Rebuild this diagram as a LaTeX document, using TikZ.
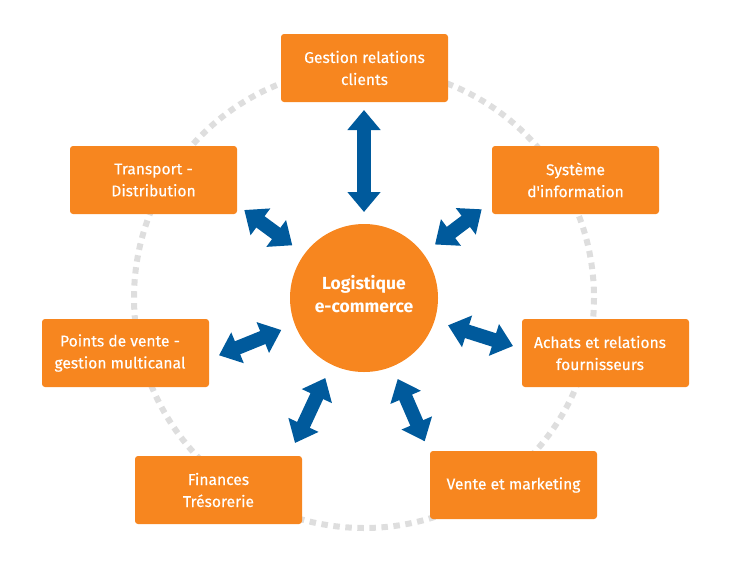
\documentclass[tikz,border=0pt]{standalone}
\usepackage{fontspec}
\setmainfont{Fira Sans}
\newfontfamily\boxfont[FakeBold=0.35]{Fira Sans}
\usetikzlibrary{arrows.meta}
\definecolor{orangebox}{HTML}{F7861F}
\definecolor{bluearrow}{HTML}{005A9C}
\definecolor{greyring}{HTML}{DEDEDE}
\newcommand{\backtext}{\hspace*{-11pt}}
\tikzset{
  domainbox/.style={fill=orangebox,text=white,rounded corners=3pt,minimum width=167pt,minimum height=68pt,inner sep=0pt,align=center,font=\fontsize{15.6}{22}\boxfont},
  hubdisc/.style={circle,fill=orangebox,text=white,minimum size=148pt,inner sep=0pt,align=center,font=\fontsize{17.5}{23}\selectfont\bfseries},
  dblarrow/.style={bluearrow,line width=14pt,{Triangle[length=20pt,width=32pt]}-{Triangle[length=20pt,width=32pt]}},
  ringline/.style={greyring,line width=6pt,dash pattern=on 6.5pt off 5.55pt}
}
\begin{document}
\begin{tikzpicture}[x=1pt,y=-1pt]
	  \useasboundingbox (0,0) rectangle (730,560);
	  \coordinate (C) at (364,298);
	  \draw[ringline] (C) circle (230);
	  \node[hubdisc] (hub) at (C) {Logistique\\e-commerce\\[-15pt]\mbox{}};
	  \node[domainbox] (clients) at (364.5,68) {Gestion relations\\clients};
	  \node[domainbox] (info) at (575.5,180) {Système\\d'information};
	  \node[domainbox] (achats) at (605.5,353) {\backtext Achats et relations\\\backtext fournisseurs};
	  \node[domainbox] (vente) at (513.5,485) {Vente et marketing};
	  \node[domainbox] (finances) at (218.5,490) {Finances\\Trésorerie};
	  \node[domainbox] (points) at (125.5,353) {\backtext Points de vente -\\\backtext gestion multicanal};
	  \node[domainbox] (transport) at (153.5,180) {Transport -\\Distribution};
	  % ends of the double arrows
	  \coordinate (A1) at (364,212);
	  \coordinate (B1) at (364,110);
	  \coordinate (A2) at (435,244.5);
	  \coordinate (B2) at (481.7,209.3);
	  \coordinate (A3) at (448,325.3);
	  \coordinate (B3) at (513,346);
	  \coordinate (A4) at (397.7,379);
	  \coordinate (B4) at (424.7,441.3);
	  \coordinate (A5) at (325.3,378);
	  \coordinate (B5) at (295,443);
	  \coordinate (A6) at (281.3,330);
	  \coordinate (B6) at (219,355.3);
	  \coordinate (A7) at (292.3,245.3);
	  \coordinate (B7) at (244.3,210);
	  \foreach \i in {1,...,7}
	    \draw[dblarrow] (A\i) -- (B\i);
	\end{tikzpicture}
\end{document}
